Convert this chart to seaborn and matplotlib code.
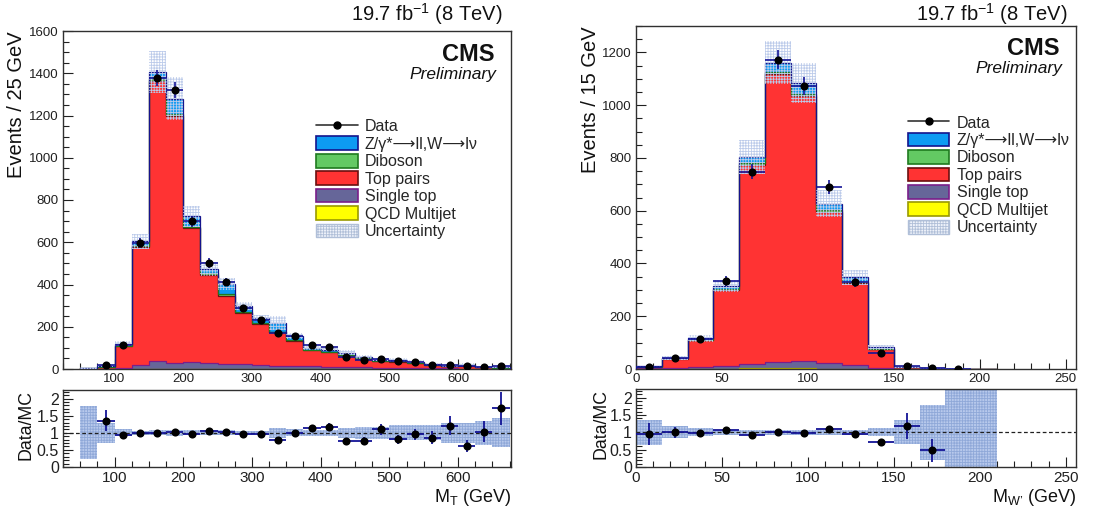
import numpy as np
import pandas as pd
import matplotlib
matplotlib.use("Agg")
import matplotlib.pyplot as plt
import seaborn as sns
from matplotlib.lines import Line2D
from matplotlib.patches import Patch
from matplotlib.ticker import MultipleLocator, FixedLocator

# ---------------- data: left panel, M_T (25 GeV bins from 50 to 675) -------------
mt_edges = list(range(50, 676, 25))
mt_data = [np.nan, 19, 113, 598, 1378, 1320, 700, 502, 412, 287, 232, 172, 155,
           112, 106, 58, 44, 49, 36, 32, 20, 19, 13, 11, 13]
mt_zw = [2, 4, 10, 20, 35, 75, 48, 20, 47, 30, 24, 42, 20,
         8, 10, 10, 8, 5, 8, 5, 4, 3, 4, 2, 1.5]
mt_diboson = [0, 0.5, 2, 5, 8, 8, 7, 8, 6, 5, 4, 3, 3,
              2, 2, 2, 1.5, 1, 1, 1, 1, 0.5, 0.5, 0.5, 0.3]
mt_ttbar = [2, 7.5, 102, 562, 1326, 1167, 635, 419, 322, 241, 195, 157, 118,
            76, 68, 56, 41, 33, 30, 23, 15, 9, 14, 6, 4.6]
mt_singletop = [0.5, 1, 5, 15, 35, 28, 30, 25, 24, 22, 18, 15, 15,
                12, 10, 8, 7, 5, 5, 4, 3, 3, 2, 2, 1]
mt_qcd = [0.5, 1, 1, 2, 2, 2, 2, 2, 1.5, 1.5, 1, 1, 1,
          1, 1, 0.5, 0.5, 0.5, 0.5, 0.5, 0.3, 0.3, 0.3, 0.2, 0.2]
mt_unc = [0.77, 0.30, 0.10, 0.06, 0.07, 0.08, 0.07, 0.07, 0.07, 0.06, 0.06, 0.15, 0.10,
          0.08, 0.08, 0.15, 0.17, 0.17, 0.22, 0.22, 0.22, 0.30, 0.30, 0.35, 0.42]

# ---------------- data: right panel, M_W' (15 GeV bins from 0 to 210) ------------
mw_edges = list(range(0, 211, 15))
mw_data = [9, 43, 114, 334, 748, 1173, 1073, 689, 330, 59, 10, 2, 0, np.nan]
mw_zw = [1.5, 3, 5, 12, 22, 35, 40, 25, 17, 5, 1, 0.5, 0.2, 0.1]
mw_diboson = [0.5, 1, 2, 4, 8, 9, 8, 5, 3, 1, 0.3, 0.1, 0.05, 0.05]
mw_ttbar = [4.5, 35, 103, 288, 754, 1090, 1007, 575, 311, 70, 6, 3, 0.5, 0.2]
mw_singletop = [2, 3, 5, 10, 18, 25, 27, 20, 15, 5, 1, 0.5, 0.2, 0.1]
mw_qcd = [1, 1, 1, 1.5, 2, 2, 2, 1.5, 1, 0.5, 0.2, 0.1, 0.05, 0.05]
mw_unc = [0.36, 0.17, 0.12, 0.07, 0.08, 0.07, 0.07, 0.08, 0.08, 0.12, 0.35, 0.80, 2.0, 2.0]

labels = ["Z/γ*→ll,W→lν", "Diboson", "Top pairs", "Single top", "QCD Multijet"]
legend_text = {"Z/γ*→ll,W→lν": "Z/γ*⟶ll,W⟶lν"}
fills = {"Z/γ*→ll,W→lν": "#0d9bf2", "Diboson": "#63c963", "Top pairs": "#ff3333",
         "Single top": "#666699", "QCD Multijet": "#ffff00"}
edges_c = {"Z/γ*→ll,W→lν": "#14148c", "Diboson": "#1f7a1f", "Top pairs": "#6b1010",
           "Single top": "#7a1f8a", "QCD Multijet": "#9a9a00"}
HATCH_C = "#bccbea"
ERR_C = "#141496"

sns.set_style("ticks")
plt.rcParams["font.family"] = ["Liberation Sans", "DejaVu Sans"]
plt.rcParams["mathtext.fontset"] = "custom"
plt.rcParams["mathtext.rm"] = "Liberation Sans"
plt.rcParams["mathtext.it"] = "Liberation Sans:italic"
plt.rcParams["hatch.linewidth"] = 0.6

W, H = 1098, 513
fig = plt.figure(figsize=(W / 100, H / 100), dpi=100)


def px_ax(x0, y0, x1, y1):
    return fig.add_axes([x0 / W, 1 - y1 / H, (x1 - x0) / W, (y1 - y0) / H])


def style_axis(ax, labsize):
    for s in ax.spines.values():
        s.set_linewidth(1.0)
        s.set_color("#303030")
    ax.tick_params(which="both", direction="in", top=False, right=False,
                   labelsize=labsize, colors="#202020", pad=3)
    ax.tick_params(which="major", length=7, width=0.8)
    ax.tick_params(which="minor", length=4, width=0.8)


def draw(ax, axr, edges, data, comps, unc, xlim, ylim, xmaj, xmin, ymaj, ymin,
         ylabel, xlabel, ylab_x, rlab_x, leg_xy):
    edges_a = np.asarray(edges, float)
    centers = 0.5 * (edges_a[:-1] + edges_a[1:])
    width = edges_a[1] - edges_a[0]
    data = np.asarray(data, float)
    unc = np.asarray(unc, float)
    comp_arr = {k: np.asarray(v, float) for k, v in comps.items()}
    mc = sum(comp_arr.values())

    long = pd.DataFrame({
        "x": np.concatenate([centers] * len(labels)),
        "w": np.concatenate([comp_arr[k] for k in labels]),
        "proc": np.repeat(labels, len(centers)),
    })
    sns.histplot(data=long, x="x", weights="w", hue="proc", hue_order=labels,
                 palette=fills, bins=list(edges), multiple="stack", element="step",
                 fill=True, alpha=1, linewidth=0, legend=False, ax=ax)
    # outlines of each stacked component
    cum = np.zeros_like(mc)
    for k in labels[::-1]:
        cum = cum + comp_arr[k]
        ax.stairs(cum, edges_a, baseline=0, color=edges_c[k], lw=0.9, zorder=3)
    # uncertainty band
    ax.stairs(mc * (1 + unc), edges_a, baseline=mc * (1 - unc), fill=True,
              facecolor="none", edgecolor=HATCH_C, hatch="++++++", lw=0, zorder=4)
    # data
    m = ~np.isnan(data)
    ax.errorbar(centers[m], data[m], xerr=width / 2, yerr=np.sqrt(data[m]), fmt="none",
                ecolor=ERR_C, elinewidth=1.2, capsize=0, zorder=5)
    sns.scatterplot(x=centers[m], y=data[m], color="black", s=34, edgecolor="black",
                    linewidth=0, ax=ax, zorder=6, legend=False)
    ax.set_xlim(*xlim)
    ax.set_ylim(*ylim)
    ax.xaxis.set_major_locator(MultipleLocator(xmaj))
    ax.xaxis.set_minor_locator(MultipleLocator(xmin))
    ax.yaxis.set_major_locator(MultipleLocator(ymaj))
    ax.yaxis.set_minor_locator(MultipleLocator(ymin))
    ax.set_xlabel("")
    ax.set_ylabel("")
    style_axis(ax, 9.5)

    # ratio panel
    axr.stairs(1 + unc, edges_a, baseline=1 - unc, fill=True, facecolor="#b8c9ec",
               edgecolor="#8fa8d8", hatch="++++++", lw=0, zorder=1)
    axr.axhline(1, color="#202020", ls=(0, (3, 2)), lw=0.9, zorder=2)
    mr = m & (np.nan_to_num(data) > 0)
    ratio = data[mr] / mc[mr]
    rerr = np.sqrt(data[mr]) / mc[mr]
    axr.errorbar(centers[mr], ratio, xerr=width / 2, yerr=rerr, fmt="none",
                 ecolor=ERR_C, elinewidth=1.3, capsize=0, zorder=3)
    sns.scatterplot(x=centers[mr], y=ratio, color="black", s=34, edgecolor="black",
                    linewidth=0, ax=axr, zorder=4, legend=False)
    axr.set_xlim(*xlim)
    axr.set_ylim(0, 2.25)
    axr.yaxis.set_major_locator(FixedLocator([0, 0.5, 1, 1.5, 2]))
    axr.set_yticklabels(["0", "0.5", "1", "1.5", "2"])
    axr.yaxis.set_minor_locator(MultipleLocator(0.1))
    axr.xaxis.set_major_locator(MultipleLocator(xmaj))
    axr.xaxis.set_minor_locator(MultipleLocator(xmin))
    style_axis(axr, 11.5)
    axr.tick_params(axis="x", labelsize=11)

    # texts
    bb = ax.get_position()
    x_right = bb.x1 * W
    fig.text((x_right - 8) / W, 1 - 14 / H, "19.7 fb$^{-1}$ (8 TeV)", ha="right",
             va="center", fontsize=14.5, color="#111111")
    top_px = (1 - bb.y1) * H
    fig.text(ylab_x / W, 1 - top_px / H, ylabel, rotation=90, ha="center", va="top",
             fontsize=14.5, color="#111111")
    rb = axr.get_position()
    fig.text(rlab_x / W, rb.y1, "Data/MC", rotation=90, ha="center", va="top",
             fontsize=12.8, color="#111111")
    fig.text(x_right / W, 1 - 497 / H, xlabel, ha="right", va="center",
             fontsize=13, color="#111111")

    handles = [Line2D([0], [0], color="#333333", lw=1.2, marker="o", markersize=5,
                      markerfacecolor="black", markeredgecolor="black")]
    for k in labels:
        handles.append(Patch(facecolor=fills[k], edgecolor=edges_c[k], lw=1.2))
    handles.append(Patch(facecolor="#eef2fa", edgecolor="#b0bfd8", hatch="++++++", lw=1.0))
    ax.legend(handles, ["Data"] + [legend_text.get(k, k) for k in labels] + ["Uncertainty"],
              loc="upper left", bbox_to_anchor=leg_xy, frameon=False, fontsize=11.5,
              handlelength=2.6, handleheight=0.95, handletextpad=0.45, labelspacing=0.13,
              borderpad=0, borderaxespad=0)


# left
axL = px_ax(63, 31, 511, 369)
axLr = px_ax(63, 390, 511, 467)
draw(axL, axLr, mt_edges, mt_data,
     {"Z/γ*→ll,W→lν": mt_zw, "Diboson": mt_diboson, "Top pairs": mt_ttbar,
      "Single top": mt_singletop, "QCD Multijet": mt_qcd},
     mt_unc, (25, 677), (0, 1600), 100, 25, 200, 50,
     "Events / 25 GeV", r"M$_{\mathrm{T}}$ (GeV)", 17, 26, (0.565, 0.74))
axL.text(0.963, 0.93, "CMS", transform=axL.transAxes, ha="right", va="center",
         fontsize=17, fontweight="bold", color="#111111")
axL.text(0.968, 0.87, "Preliminary", transform=axL.transAxes, ha="right", va="center",
         fontsize=12.5, style="italic", color="#111111")

# right
axR = px_ax(636, 26, 1076, 369)
axRr = px_ax(636, 389, 1076, 467)
draw(axR, axRr, mw_edges, mw_data,
     {"Z/γ*→ll,W→lν": mw_zw, "Diboson": mw_diboson, "Top pairs": mw_ttbar,
      "Single top": mw_singletop, "QCD Multijet": mw_qcd},
     mw_unc, (0, 256), (0, 1300), 50, 10, 200, 50,
     "Events / 15 GeV", "M$_{\\mathrm{W’}}$ (GeV)", 590, 601, (0.618, 0.74))
axR.text(0.962, 0.935, "CMS", transform=axR.transAxes, ha="right", va="center",
         fontsize=17, fontweight="bold", color="#111111")
axR.text(0.97, 0.875, "Preliminary", transform=axR.transAxes, ha="right", va="center",
         fontsize=12.5, style="italic", color="#111111")

fig.savefig("out.png", dpi=100)
